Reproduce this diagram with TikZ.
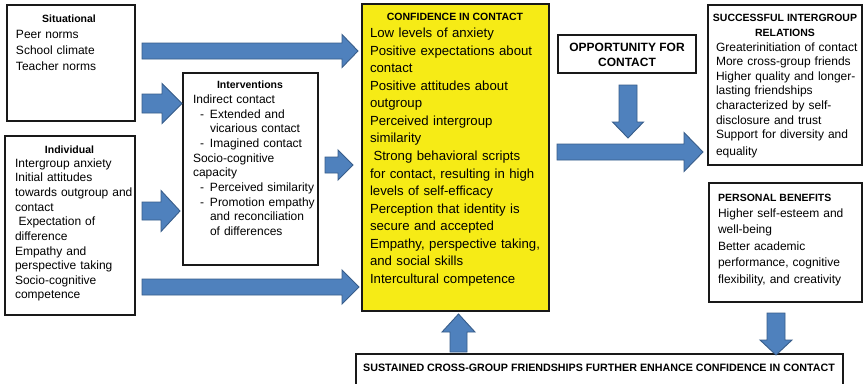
\documentclass[tikz,border=0pt]{standalone}
\usepackage{fontspec}
\setmainfont{Liberation Sans}
\usetikzlibrary{calc}

\definecolor{boxline}{RGB}{25,25,25}
\definecolor{confyellow}{RGB}{246,235,22}
\definecolor{arrowfill}{RGB}{79,129,189}
\definecolor{arrowedge}{RGB}{56,93,138}

% invisible strut fixing the height of the first line of a text block
\newcommand\capstrut{\vrule height 10pt width 0pt depth 0pt}
\newcommand\dashitem[1]{\hspace*{7pt}\makebox[10pt][l]{-}#1}
\newcommand\contline[1]{\hspace*{17pt}#1}

% block arrow from tail #1 to tip #2: half shaft width #3, half head width #4, head length #5
\newcommand\blockarrow[5]{%
  \coordinate (hb) at ($(#2)!#5!(#1)$);
  \draw[blockfill]
    ($(#1)!#3!90:(#2)$) -- ($(hb)!#3!90:(#2)$) -- ($(hb)!#4!90:(#2)$) -- (#2)
    -- ($(hb)!#4!-90:(#2)$) -- ($(hb)!#3!-90:(#2)$) -- ($(#1)!#3!-90:(#2)$) -- cycle;
}

\tikzset{
  box/.style={draw=boxline, line width=1.1pt, fill=white, anchor=north west,
              inner sep=0pt, outer sep=0pt},
  txt/.style={anchor=north west, inner sep=0pt, outer sep=0pt, align=left,
              text width=#1},
  txt/.default=200pt,
  ttl/.style={anchor=base, inner sep=0pt, font=\bfseries\fontsize{10.5}{15}\selectfont},
  blockfill/.style={fill=arrowfill, draw=arrowedge, line width=0.9pt, line join=miter},
}

\begin{document}
\begin{tikzpicture}[x=1pt, y=-1pt]
\useasboundingbox (0,0) rectangle (867,383);
\fill[white] (0,0) rectangle (867,383);

% ---- boxes ----
\node[box, minimum width=128pt, minimum height=116pt] (sit) at (7,5) {};
\node[box, minimum width=130pt, minimum height=179pt] (ind) at (5,136) {};
\node[box, minimum width=135pt, minimum height=192pt] (int) at (183,73) {};
\node[box, fill=confyellow, line width=1.4pt, minimum width=187pt, minimum height=307pt] (conf) at (362,4) {};
\node[box, minimum width=138pt, minimum height=38pt] (opp) at (558,35) {};
\node[box, minimum width=154pt, minimum height=160pt] (succ) at (708,5) {};
\node[box, minimum width=153pt, minimum height=119pt] (pers) at (709,183) {};
\node[box, minimum width=487pt, minimum height=45pt] (sust) at (356,354) {};

% ---- situational ----
\node[ttl] (sit-title) at (69,22.7) {Situational};
\node[txt, font=\fontsize{12}{16.1}\selectfont] (sit-text) at (16,28.7)
  {\noindent\capstrut Peer norms\\
   School climate\\
   Teacher norms};

% ---- individual ----
\node[ttl] (ind-title) at (69.5,153.3) {Individual};
\node[txt, font=\fontsize{12}{14.62}\selectfont] (ind-text) at (15,157.3)
  {\noindent\capstrut Intergroup anxiety\\
   Initial attitudes\\
   towards outgroup and\\
   contact\\
   \hspace*{3.5pt}Expectation of\\
   difference\\
   Empathy and\\
   perspective taking\\
   Socio-cognitive\\
   competence};

% ---- interventions ----
\node[ttl] (int-title) at (250,88.3) {Interventions};
\node[txt, font=\fontsize{12}{14.7}\selectfont] (int-text) at (193,93.3)
  {\noindent\capstrut Indirect contact\\
   \dashitem{Extended and}\\
   \contline{vicarious contact}\\
   \dashitem{Imagined contact}\\
   Socio-cognitive\\
   capacity\\
   \dashitem{Perceived similarity}\\
   \dashitem{Promotion empathy}\\
   \contline{and reconciliation}\\
   \contline{of differences}};

% ---- confidence in contact ----
\node[ttl] (conf-title) at (455,20.7) {CONFIDENCE IN CONTACT};
\node[txt, font=\fontsize{13.2}{17.57}\selectfont] (conf-text) at (370,27.5)
  {\noindent\capstrut Low levels of anxiety\\
   Positive expectations about\\
   contact\\
   Positive attitudes about\\
   outgroup\\
   Perceived intergroup\\
   similarity\\
   \hspace*{3.5pt}Strong behavioral scripts\\
   for contact, resulting in high\\
   levels of self-efficacy\\
   Perception that identity is\\
   secure and accepted\\
   Empathy, perspective taking,\\
   and social skills\\
   Intercultural competence};

% ---- opportunity ----
\node[anchor=north, inner sep=0pt, align=center,
      font=\bfseries\fontsize{12}{15.7}\selectfont] (opp-text) at (627,41)
  {\capstrut OPPORTUNITY FOR\\ CONTACT};

% ---- successful intergroup relations ----
\node[anchor=north, inner sep=0pt, align=center,
      font=\bfseries\fontsize{10.5}{15}\selectfont] (succ-title) at (785,11)
  {\capstrut SUCCESSFUL INTERGROUP\\ RELATIONS};
\node[txt, font=\fontsize{12}{14.6}\selectfont] (succ-text) at (716,41)
  {\noindent\capstrut Greaterinitiation of contact\\
   More cross-group friends\\
   Higher quality and longer-\\
   lasting friendships\\
   characterized by self-\\
   disclosure and trust\\
   Support for diversity and\\[2.4pt]
   equality};

% ---- personal benefits ----
\node[ttl, anchor=base west] (pers-title) at (718,201) {PERSONAL BENEFITS};
\node[txt, font=\fontsize{12}{16.4}\selectfont] (pers-text) at (718,207.5)
  {\noindent\capstrut Higher self-esteem and\\
   well-being\\
   Better academic\\
   performance, cognitive\\
   flexibility, and creativity};

% ---- sustained friendships ----
\node[anchor=base west, inner sep=0pt, font=\bfseries\fontsize{10.7}{12}\selectfont]
  (sust-text) at (363,371)
  {SUSTAINED CROSS-GROUP FRIENDSHIPS FURTHER ENHANCE CONFIDENCE IN CONTACT};

% ---- arrow end points ----
\coordinate (sc-t) at (142,51);    \coordinate (sc-h) at (358,51);
\coordinate (si-t) at (142,103.5); \coordinate (si-h) at (182,103.5);
\coordinate (ii-t) at (142,211);   \coordinate (ii-h) at (180,211);
\coordinate (ic-t) at (142,287);   \coordinate (ic-h) at (359,287);
\coordinate (nc-t) at (325,165);   \coordinate (nc-h) at (353,165);
\coordinate (cs-t) at (557,152);   \coordinate (cs-h) at (703,152);
\coordinate (op-t) at (628,85);    \coordinate (op-h) at (628,138);
\coordinate (up-t) at (458.5,352); \coordinate (up-h) at (458.5,314);
\coordinate (pb-t) at (776,313);   \coordinate (pb-h) at (776,355);

% ---- block arrows ----
\blockarrow{sc-t}{sc-h}{8pt}{16.5pt}{16pt}
\blockarrow{si-t}{si-h}{9.5pt}{20pt}{20pt}
\blockarrow{ii-t}{ii-h}{9pt}{20.5pt}{19pt}
\blockarrow{ic-t}{ic-h}{8pt}{17pt}{17pt}
\blockarrow{nc-t}{nc-h}{8pt}{15pt}{15pt}
\blockarrow{cs-t}{cs-h}{8pt}{19.5pt}{19pt}
\blockarrow{op-t}{op-h}{9pt}{15.5pt}{16pt}
\blockarrow{up-t}{up-h}{8.5pt}{16.5pt}{18pt}
\blockarrow{pb-t}{pb-h}{9pt}{16pt}{15pt}
\end{tikzpicture}
\end{document}
